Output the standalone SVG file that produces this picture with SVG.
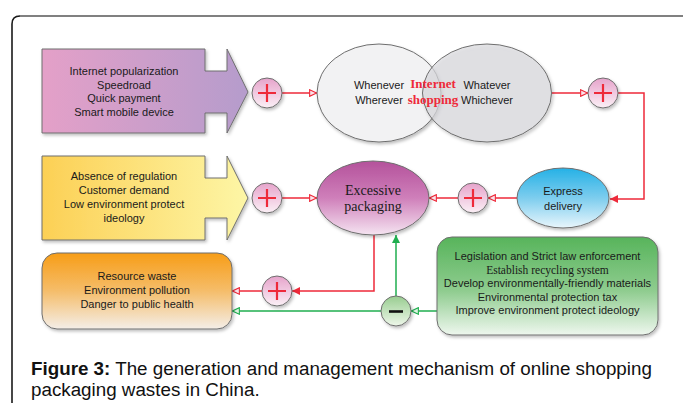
<svg xmlns="http://www.w3.org/2000/svg" width="683" height="403" viewBox="0 0 683 403">
<defs>
<linearGradient id="gPurple" x1="0" y1="0" x2="1" y2="0"><stop offset="0" stop-color="#e4a0c8"/><stop offset="1" stop-color="#b59ccc"/></linearGradient>
<linearGradient id="gYellow" x1="0" y1="0" x2="1" y2="0"><stop offset="0" stop-color="#fcd055"/><stop offset="1" stop-color="#fdf6a6"/></linearGradient>
<linearGradient id="gOrange" x1="0" y1="0" x2="0" y2="1"><stop offset="0" stop-color="#f79d17"/><stop offset="0.5" stop-color="#f5bd6a"/><stop offset="1" stop-color="#f4eee8"/></linearGradient>
<linearGradient id="gGreen" x1="0" y1="0" x2="0" y2="1"><stop offset="0" stop-color="#57b45b"/><stop offset="0.55" stop-color="#8fcc8f"/><stop offset="1" stop-color="#eef7ee"/></linearGradient>
<linearGradient id="gExcess" x1="0" y1="0" x2="0" y2="1"><stop offset="0" stop-color="#b4529b"/><stop offset="0.5" stop-color="#cf7fba"/><stop offset="1" stop-color="#f5e4f1"/></linearGradient>
<linearGradient id="gExpress" x1="0" y1="0" x2="0" y2="1"><stop offset="0" stop-color="#25b1e6"/><stop offset="0.5" stop-color="#7dcdee"/><stop offset="1" stop-color="#e9f6fc"/></linearGradient>
<linearGradient id="gPlus" x1="0" y1="0" x2="0" y2="1"><stop offset="0" stop-color="#e6a3cb"/><stop offset="1" stop-color="#fbf0f6"/></linearGradient>
<linearGradient id="gMinus" x1="0" y1="0" x2="0" y2="1"><stop offset="0" stop-color="#98cd90"/><stop offset="1" stop-color="#eef7ea"/></linearGradient>
<filter id="sh" x="-20%" y="-20%" width="140%" height="140%"><feDropShadow dx="1.5" dy="2" stdDeviation="1.5" flood-color="#000" flood-opacity="0.25"/></filter>
<marker id="aRo" viewBox="0 0 10 10" refX="10" refY="5" markerUnits="userSpaceOnUse" markerWidth="9" markerHeight="8" orient="auto"><path d="M0.8,0.8 L9.5,5 L0.8,9.2 z" fill="#fbe3ea" stroke="#ee2a3a" stroke-width="1.4"/></marker>
<marker id="aRs" viewBox="0 0 10 10" refX="10" refY="5" markerUnits="userSpaceOnUse" markerWidth="9" markerHeight="8" orient="auto"><path d="M0,0 L10,5 L0,10 z" fill="#ee2a3a"/></marker>
<marker id="aGo" viewBox="0 0 10 10" refX="10" refY="5" markerUnits="userSpaceOnUse" markerWidth="9" markerHeight="8" orient="auto"><path d="M0.8,0.8 L9.5,5 L0.8,9.2 z" fill="#dff3e3" stroke="#1fae4f" stroke-width="1.4"/></marker>
<marker id="aGs" viewBox="0 0 10 10" refX="10" refY="5" markerUnits="userSpaceOnUse" markerWidth="9" markerHeight="8" orient="auto"><path d="M0,0 L10,5 L0,10 z" fill="#1fae4f"/></marker>
</defs>
<style>
.s{font-family:"Liberation Sans",Arial,sans-serif;font-size:11px;fill:#1a1a1a;text-anchor:middle}
.t{font-family:"Liberation Serif","Times New Roman",serif;fill:#1a1a1a;text-anchor:middle}
.edge{stroke-width:1.5;fill:none}
.r{stroke:#ee2a3a}
.g{stroke:#1fae4f}
.bd{stroke:#6e6e6e;stroke-width:1}
.pl{stroke:#ee2a3a;stroke-width:2.2}
.cap{font-family:"Liberation Sans",Arial,sans-serif;font-size:18.8px;fill:#111}
</style>
<rect width="683" height="403" fill="#ffffff"/>
<path d="M12,403 V24 Q12,16 20,16" fill="none" stroke="#1a1a1a" stroke-width="1.6"/>
<path d="M20,16 H683" fill="none" stroke="#808080" stroke-width="2"/>

<g id="connectors">
<path class="edge r" d="M282,93 H317" marker-end="url(#aRo)"/>
<path class="edge r" d="M552,93 H588" marker-end="url(#aRo)"/>
<path class="edge r" d="M618,93 H644 V199 H610" marker-end="url(#aRs)"/>
<path class="edge r" d="M517,198 H488" marker-end="url(#aRo)"/>
<path class="edge r" d="M458,198 H429" marker-end="url(#aRo)"/>
<path class="edge r" d="M282,198 H317" marker-end="url(#aRo)"/>
<path class="edge r" d="M374,235 V291 H292" marker-end="url(#aRs)"/>
<path class="edge r" d="M262,291 H232" marker-end="url(#aRo)"/>
<path class="edge g" d="M437,311 H411" marker-end="url(#aGo)"/>
<path class="edge g" d="M381,311 H232" marker-end="url(#aGo)"/>
<path class="edge g" d="M396,296 V235" marker-end="url(#aGs)"/>
</g>

<g id="drivers1">
<polygon points="42,49 205,49 205,71 227,71 227,49 248,92 227,133 227,113 205,113 205,133 42,133" fill="url(#gPurple)" class="bd" filter="url(#sh)"/>
<text class="s" x="124" y="75">Internet popularization</text>
<text class="s" x="124" y="88.5">Speedroad</text>
<text class="s" x="124" y="102">Quick payment</text>
<text class="s" x="124" y="115.5">Smart mobile device</text>
</g>

<g id="drivers2">
<polygon points="42,156 205,156 205,178 227,178 227,156 248,198 227,240 227,218 205,218 205,240 42,240" fill="url(#gYellow)" class="bd" filter="url(#sh)"/>
<text class="s" x="124" y="180">Absence of regulation</text>
<text class="s" x="124" y="194">Customer demand</text>
<text class="s" x="124" y="208">Low environment protect</text>
<text class="s" x="124" y="222">ideology</text>
</g>

<g id="plus1"><circle cx="267" cy="93" r="15" fill="url(#gPlus)" class="bd" filter="url(#sh)"/><path class="pl" d="M258,93 H276 M267,84 V102"/></g>
<g id="plus2"><circle cx="603" cy="93" r="15" fill="url(#gPlus)" class="bd" filter="url(#sh)"/><path class="pl" d="M594,93 H612 M603,84 V102"/></g>
<g id="plus3"><circle cx="267" cy="198" r="15" fill="url(#gPlus)" class="bd" filter="url(#sh)"/><path class="pl" d="M258,198 H276 M267,189 V207"/></g>
<g id="plus4"><circle cx="473" cy="198" r="15" fill="url(#gPlus)" class="bd" filter="url(#sh)"/><path class="pl" d="M464,198 H482 M473,189 V207"/></g>
<g id="plus5"><circle cx="277" cy="291" r="15" fill="url(#gPlus)" class="bd" filter="url(#sh)"/><path class="pl" d="M268,291 H286 M277,282 V300"/></g>
<g id="minus"><circle cx="396" cy="311" r="15" fill="url(#gMinus)" class="bd" filter="url(#sh)"/><path d="M389,311.5 H403" stroke="#111" stroke-width="2.6"/></g>

<g id="internet-shopping">
<ellipse cx="379" cy="93" rx="62" ry="49" fill="#f2f2f3" class="bd" filter="url(#sh)"/>
<ellipse cx="487" cy="93" rx="64.5" ry="49" fill="#dcdce0" fill-opacity="0.7" class="bd" filter="url(#sh)"/>
<text class="s" x="379" y="89">Whenever</text>
<text class="s" x="379" y="104">Wherever</text>
<text class="s" x="487" y="89">Whatever</text>
<text class="s" x="487" y="104">Whichever</text>
<text class="t" x="433" y="88" font-size="13" font-weight="bold" fill="#ee2a3a" style="fill:#ee2a3a">Internet</text>
<text class="t" x="433" y="104" font-size="13" font-weight="bold" style="fill:#ee2a3a">shopping</text>
</g>

<g id="excessive">
<ellipse cx="373" cy="198" rx="56" ry="37" fill="url(#gExcess)" class="bd" filter="url(#sh)"/>
<text class="t" x="373" y="195" font-size="14">Excessive</text>
<text class="t" x="373" y="211" font-size="14">packaging</text>
</g>

<g id="express">
<ellipse cx="563" cy="198" rx="46" ry="30" fill="url(#gExpress)" class="bd" filter="url(#sh)"/>
<text class="s" x="563" y="195" font-size="11.5">Express</text>
<text class="s" x="563" y="210" font-size="11.5">delivery</text>
</g>

<g id="consequences">
<rect x="42" y="253" width="190" height="76" rx="15" fill="url(#gOrange)" class="bd" filter="url(#sh)"/>
<text class="s" x="137" y="280">Resource waste</text>
<text class="s" x="137" y="294">Environment pollution</text>
<text class="s" x="137" y="308">Danger to public health</text>
</g>

<g id="measures">
<rect x="437" y="237" width="221" height="98" rx="15" fill="url(#gGreen)" class="bd" filter="url(#sh)"/>
<text class="s" x="547.5" y="260">Legislation and Strict law enforcement</text>
<text class="t" x="547.5" y="273.5" font-size="11.5">Establish recycling system</text>
<text class="s" x="547.5" y="287">Develop environmentally-friendly materials</text>
<text class="s" x="547.5" y="300.5">Environmental protection tax</text>
<text class="s" x="547.5" y="314">Improve environment protect ideology</text>
</g>

<g id="caption">
<text class="cap" x="31" y="375"><tspan font-weight="bold">Figure 3:</tspan> The generation and management mechanism of online shopping</text>
<text class="cap" x="31" y="396">packaging wastes in China.</text>
</g>
</svg>
